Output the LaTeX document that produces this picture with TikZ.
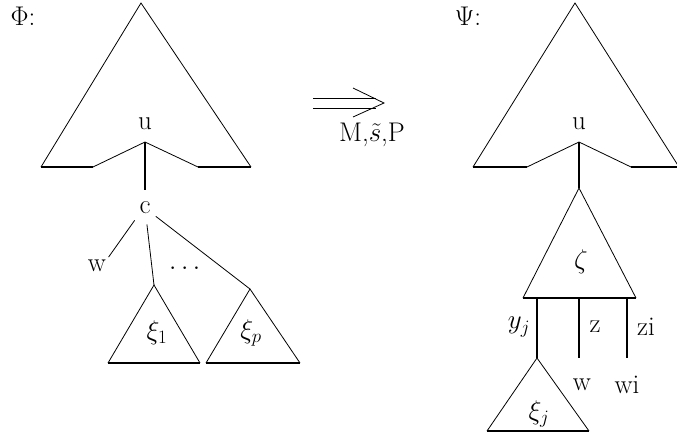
\RequirePackage{fix-cm}
\documentclass[tikz,border=0pt]{standalone}
\usepackage{amsmath, amssymb}
\usetikzlibrary{arrows.meta}

\begin{document}
\begin{tikzpicture}[x=1pt,y=-1pt,line width=0.8pt,
                    every node/.style={inner sep=1pt,font=\fontsize{27}{32}\selectfont},
                    base/.style={line width=2.8pt},
                    stem/.style={line width=2.2pt}]
                    \useasboundingbox (0,0) rectangle (677,437);
                    % left tree
                    \node (phi) at (23,16) {$\Phi$:};
                    \coordinate (top1) at (141,3);
                    \coordinate (bl1) at (41,167);
                    \coordinate (kl1) at (93,167);
                    \coordinate (kr1) at (198,167);
                    \coordinate (br1) at (251,167);
                    \coordinate (u1) at (145,142);
                    \node (lu1) at (145,124) {u};
                    \node (c) at (145,208) {c};
                    \node (w) at (97,266) {w};
                    \node at (187,268) {$\dots$};
                    \coordinate (t1) at (154,285);
                    \coordinate (t1l) at (108,363);
                    \coordinate (t1r) at (200,363);
                    \node (xi1) at (157,333) {$\xi_1$};
                    \coordinate (tp) at (250,289);
                    \coordinate (tpl) at (206,363);
                    \coordinate (tpr) at (300,363);
                    \node (xip) at (251,333) {$\xi_p$};
                    \draw (bl1) -- (top1) -- (br1);
                    \draw (kl1) -- (u1) -- (kr1);
                    \draw[base] (bl1) -- (kl1) (kr1) -- (br1);
                    \draw[stem] (u1) -- ++(0,48);
                    \draw[shorten <=6pt,shorten >=2pt] (c.south west) -- (w.north east);
                    \draw[shorten <=9pt] (c) -- (t1);
                    \draw[shorten <=5pt] (c) -- (tp);
                    \draw (t1l) -- (t1) -- (t1r);
                    \draw[base] (t1l) -- (t1r);
                    \draw (tpl) -- (tp) -- (tpr);
                    \draw[base] (tpl) -- (tpr);
                    % the arrow
                    \coordinate (ar1) at (313,103);
                    \coordinate (ar2) at (384,103);
                    \draw (ar1) ++(0,-5) -- ++(63,0) (ar1) ++(0,5) -- ++(63,0);
                    \draw (ar2) ++(-31,-15) -- (ar2) -- ++(-31,14);
                    \node (lab) at (372,135) {M,$\tilde{s}$,P};
                    % right tree
                    \node (psi) at (468,16) {$\Psi$:};
                    \coordinate (top2) at (575,3);
                    \coordinate (bl2) at (473,167);
                    \coordinate (kl2) at (527,167);
                    \coordinate (kr2) at (631,167);
                    \coordinate (br2) at (679,167);
                    \coordinate (u2) at (579,142);
                    \node (lu2) at (579,124) {u};
                    \coordinate (z0) at (579,188);
                    \coordinate (zl) at (523,298);
                    \coordinate (zr) at (636,298);
                    \node (zeta) at (581,262) {$\zeta$};
                    \coordinate (tj) at (537,358);
                    \coordinate (tjl) at (487,431);
                    \coordinate (tjr) at (589,431);
                    \node (xij) at (539,414) {$\xi_j$};
                    \node (yj) at (519,327) {$y_j$};
                    \node (z) at (595,327) {z};
                    \node (zi) at (646,327) {zi};
                    \node (w2) at (582,385) {w};
                    \node (wi) at (627,385) {wi};
                    \draw (bl2) -- (top2) -- (br2);
                    \draw (kl2) -- (u2) -- (kr2);
                    \draw[base] (bl2) -- (kl2) (kr2) -- (br2);
                    \draw[stem] (u2) -- (z0);
                    \draw (zl) -- (z0) -- (zr);
                    \draw[base] (zl) -- (zr);
                    \draw[stem] (537,298) -- (tj);
                    \draw[stem] (579,298) -- ++(0,60);
                    \draw[stem] (627,298) -- ++(0,60);
                    \draw (tjl) -- (tj) -- (tjr);
                    \draw[base] (tjl) -- (tjr);
                \end{tikzpicture}
\end{document}
